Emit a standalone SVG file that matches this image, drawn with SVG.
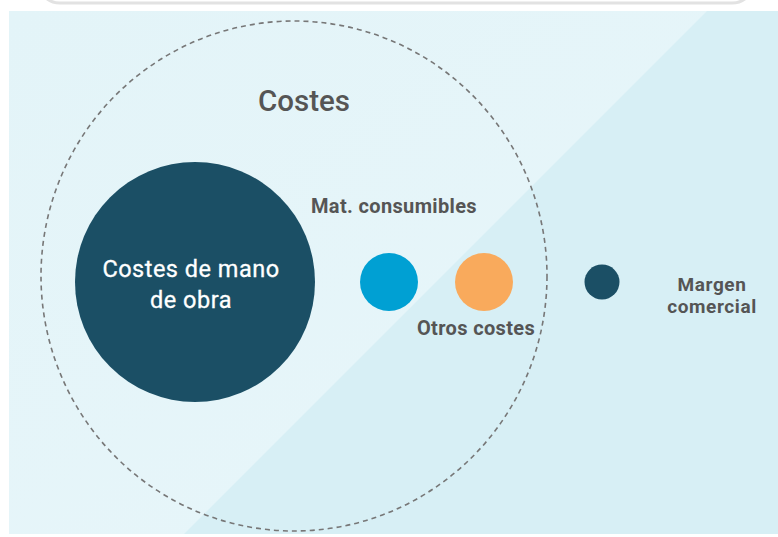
<svg xmlns="http://www.w3.org/2000/svg" width="778" height="537" viewBox="0 0 778 537">
<style>
.lbl{font-family:Roboto,"Liberation Sans",sans-serif;font-weight:bold;fill:#555;font-size:20px;letter-spacing:0.35px;}
.sm{font-size:19px;letter-spacing:0.6px;}
.title{font-family:Roboto,"Liberation Sans",sans-serif;font-weight:500;fill:#555;font-size:29.5px;}
.inner{font-family:Roboto,"Liberation Sans",sans-serif;font-weight:400;fill:#fff;font-size:23.5px;letter-spacing:0.5px;stroke:#fff;stroke-width:0.3px;}
</style>
<defs>
<linearGradient id="gl" x1="0" y1="0" x2="1" y2="1">
<stop offset="0" stop-color="#e3f4f8"/>
<stop offset="1" stop-color="#e8f6fa"/>
</linearGradient>
</defs>
<rect x="0" y="0" width="778" height="537" fill="#fff"/>
<rect x="38" y="-40" width="716" height="43" rx="22" fill="#fff" stroke="#e2e2e2" stroke-width="3"/>
<g id="background">
<rect x="9" y="11" width="769" height="523" fill="url(#gl)"/>
<polygon points="707,11 778,11 778,534 184,534" fill="#d7eff5"/>
</g>
<g id="costes">
<ellipse cx="294" cy="276" rx="253" ry="255" fill="none" stroke="#777" stroke-width="1.6" stroke-dasharray="5 4"/>
<text class="title" x="304" y="111" text-anchor="middle">Costes</text>
</g>
<g id="mano-obra">
<circle cx="195" cy="282" r="120" fill="#1b4f65"/>
<text class="inner" x="191" y="277" text-anchor="middle">Costes de mano</text>
<text class="inner" x="191" y="308" text-anchor="middle">de obra</text>
</g>
<g id="mat-consumibles">
<circle cx="389" cy="282" r="29" fill="#00a0d3"/>
<text class="lbl" x="394" y="213" text-anchor="middle">Mat. consumibles</text>
</g>
<g id="otros-costes">
<circle cx="484" cy="282" r="29" fill="#f9aa5c"/>
<text class="lbl" x="476" y="335" text-anchor="middle">Otros costes</text>
</g>
<g id="margen">
<circle cx="602" cy="282" r="17.5" fill="#1b4f65"/>
<text class="lbl sm" x="712" y="291" text-anchor="middle">Margen</text>
<text class="lbl sm" x="712" y="313" text-anchor="middle">comercial</text>
</g>
<g id="connectors"></g>
</svg>
